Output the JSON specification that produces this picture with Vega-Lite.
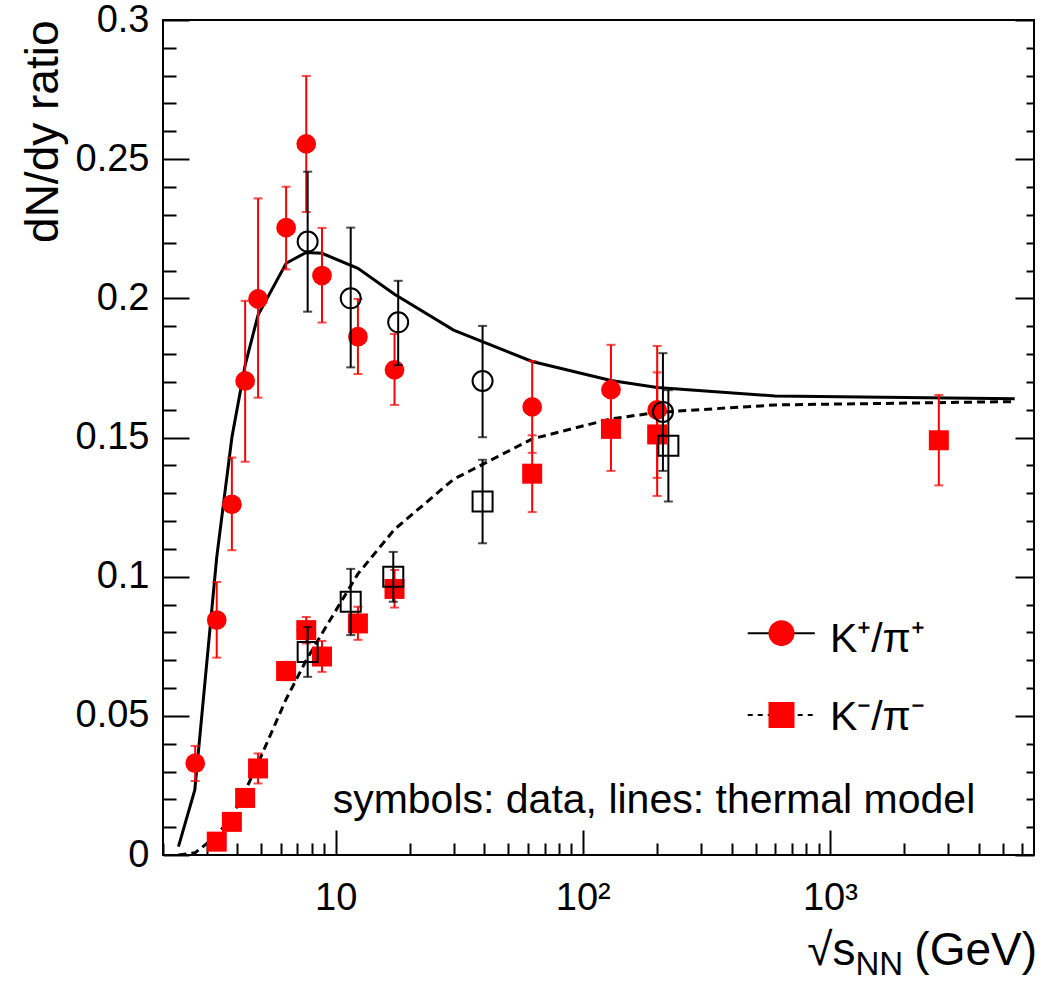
{
  "$schema": "https://vega.github.io/schema/vega-lite/v6.json",
  "width": 871,
  "height": 835,
  "autosize": "none",
  "padding": {"left": 163, "top": 20, "right": 25, "bottom": 126},
  "background": "white",
  "config": {
    "view": {"stroke": "black", "strokeWidth": 2},
    "font": "Liberation Sans",
    "axis": {"domain": false, "grid": false, "tickColor": "black", "tickWidth": 2, "labelColor": "black", "titleColor": "black", "labelFont": "Liberation Sans", "titleFont": "Liberation Sans", "labelOverlap": false, "labelFlush": false}
  },
  "datasets": {
    "model_kp": [
      {"energy": 2.31, "ratio": 0.003},
      {"energy": 2.69, "ratio": 0.0234},
      {"energy": 3.3, "ratio": 0.107},
      {"energy": 3.8, "ratio": 0.150},
      {"energy": 4.3, "ratio": 0.176},
      {"energy": 4.85, "ratio": 0.194},
      {"energy": 6.3, "ratio": 0.2126},
      {"energy": 7.6, "ratio": 0.2165},
      {"energy": 8.8, "ratio": 0.2162},
      {"energy": 12.3, "ratio": 0.2108},
      {"energy": 17.3, "ratio": 0.2015},
      {"energy": 30, "ratio": 0.1886},
      {"energy": 62.4, "ratio": 0.1773},
      {"energy": 130, "ratio": 0.1705},
      {"energy": 200, "ratio": 0.168},
      {"energy": 600, "ratio": 0.1649},
      {"energy": 5600, "ratio": 0.1639}
    ],
    "model_km": [
      {"energy": 2.31, "ratio": 0.0},
      {"energy": 2.7, "ratio": 0.0008},
      {"energy": 3.3, "ratio": 0.007},
      {"energy": 3.8, "ratio": 0.014},
      {"energy": 4.3, "ratio": 0.023},
      {"energy": 4.85, "ratio": 0.033},
      {"energy": 6.3, "ratio": 0.056},
      {"energy": 7.6, "ratio": 0.070},
      {"energy": 8.8, "ratio": 0.0796},
      {"energy": 12.3, "ratio": 0.101},
      {"energy": 17.3, "ratio": 0.117},
      {"energy": 30, "ratio": 0.135},
      {"energy": 62.4, "ratio": 0.1495},
      {"energy": 130, "ratio": 0.1567},
      {"energy": 200, "ratio": 0.159},
      {"energy": 600, "ratio": 0.1617},
      {"energy": 5600, "ratio": 0.1629}
    ],
    "red_kp": [
      {"energy": 2.7, "ratio": 0.0330, "lo": 0.0266, "hi": 0.0392},
      {"energy": 3.3, "ratio": 0.0844, "lo": 0.0709, "hi": 0.0981},
      {"energy": 3.8, "ratio": 0.1260, "lo": 0.1095, "hi": 0.1428},
      {"energy": 4.3, "ratio": 0.1703, "lo": 0.1413, "hi": 0.1991},
      {"energy": 4.85, "ratio": 0.1998, "lo": 0.1643, "hi": 0.2359},
      {"energy": 6.3, "ratio": 0.2254, "lo": 0.2104, "hi": 0.2401},
      {"energy": 7.6, "ratio": 0.2555, "lo": 0.2310, "hi": 0.2799},
      {"energy": 8.8, "ratio": 0.2082, "lo": 0.1913, "hi": 0.2253},
      {"energy": 12.3, "ratio": 0.1862, "lo": 0.1728, "hi": 0.1998},
      {"energy": 17.3, "ratio": 0.1743, "lo": 0.1617, "hi": 0.1872},
      {"energy": 62.4, "ratio": 0.1610, "lo": 0.1445, "hi": 0.1775},
      {"energy": 130, "ratio": 0.1672, "lo": 0.1512, "hi": 0.1833},
      {"energy": 200, "ratio": 0.1599, "lo": 0.1355, "hi": 0.1829}
    ],
    "red_km": [
      {"energy": 3.3, "ratio": 0.0048, "lo": 0.0038, "hi": 0.0058},
      {"energy": 3.8, "ratio": 0.0119, "lo": 0.0104, "hi": 0.0134},
      {"energy": 4.3, "ratio": 0.0205, "lo": 0.0185, "hi": 0.0225},
      {"energy": 4.85, "ratio": 0.0311, "lo": 0.0257, "hi": 0.0365},
      {"energy": 6.3, "ratio": 0.0661, "lo": 0.0628, "hi": 0.0694},
      {"energy": 7.6, "ratio": 0.0808, "lo": 0.0760, "hi": 0.0855},
      {"energy": 8.8, "ratio": 0.0713, "lo": 0.0658, "hi": 0.0769},
      {"energy": 12.3, "ratio": 0.0832, "lo": 0.0773, "hi": 0.0892},
      {"energy": 17.3, "ratio": 0.0956, "lo": 0.0889, "hi": 0.1024},
      {"energy": 62.4, "ratio": 0.1370, "lo": 0.1232, "hi": 0.1508},
      {"energy": 130, "ratio": 0.1531, "lo": 0.1380, "hi": 0.1680},
      {"energy": 200, "ratio": 0.1511, "lo": 0.1290, "hi": 0.1734},
      {"energy": 2760, "ratio": 0.1490, "lo": 0.1328, "hi": 0.1653}
    ],
    "blk_kp": [
      {"energy": 7.7, "ratio": 0.2204, "lo": 0.1952, "hi": 0.2455},
      {"energy": 11.5, "ratio": 0.2000, "lo": 0.1752, "hi": 0.2254},
      {"energy": 17.9, "ratio": 0.1914, "lo": 0.1760, "hi": 0.2063},
      {"energy": 39.3, "ratio": 0.1703, "lo": 0.1501, "hi": 0.1901},
      {"energy": 211, "ratio": 0.1592, "lo": 0.1380, "hi": 0.1803}
    ],
    "blk_km": [
      {"energy": 7.7, "ratio": 0.0729, "lo": 0.0640, "hi": 0.0819},
      {"energy": 11.5, "ratio": 0.0910, "lo": 0.0790, "hi": 0.1028},
      {"energy": 17.1, "ratio": 0.1000, "lo": 0.0910, "hi": 0.1089},
      {"energy": 39.3, "ratio": 0.1270, "lo": 0.1120, "hi": 0.1420},
      {"energy": 222, "ratio": 0.1470, "lo": 0.1270, "hi": 0.1670}
    ],
    "one": [{}]
  },
  "layer": [
    {
      "data": {"name": "model_kp"},
      "mark": {"type": "line", "color": "black", "strokeWidth": 3, "clip": true},
      "encoding": {
        "x": {"field": "energy", "type": "quantitative", "scale": {"type": "log", "domain": [2, 6700], "nice": false},
          "axis": {"orient": "bottom", "values": [10, 100, 1000], "labelExpr": "datum.value == 10 ? '10' : (datum.value == 100 ? '10²' : '10³')", "ticks": false, "tickSize": 0, "labelPadding": 24, "labelFontSize": 38, "title": null}},
        "y": {"field": "ratio", "type": "quantitative", "scale": {"domain": [0, 0.3], "nice": false, "zero": false},
          "axis": {"orient": "left", "values": [0, 0.05, 0.1, 0.15, 0.2, 0.25, 0.3], "format": "~g", "ticks": false, "tickSize": 0, "labelPadding": 14, "labelFontSize": 38, "title": "dN/dy ratio", "titleFontSize": 46, "titleFontWeight": "normal", "titleAnchor": "end", "titlePadding": 8}}
      }
    },
    {
      "data": {"name": "model_km"},
      "mark": {"type": "line", "color": "black", "strokeWidth": 3, "strokeDash": [8, 5], "clip": true},
      "encoding": {
        "x": {"field": "energy", "type": "quantitative", "scale": {"type": "log", "domain": [2, 6700], "nice": false},
          "axis": {"orient": "bottom", "values": [10, 100, 1000], "labels": false, "tickSize": 25, "offset": -25, "title": null}},
        "y": {"field": "ratio", "type": "quantitative", "scale": {"domain": [0, 0.3], "nice": false, "zero": false},
          "axis": {"orient": "left", "values": [0, 0.05, 0.1, 0.15, 0.2, 0.25, 0.3], "labels": false, "tickSize": 26, "offset": -26, "title": null}}
      }
    },
    {
      "data": {"name": "red_kp"},
      "mark": {"type": "errorbar", "ticks": true, "size": 9, "thickness": 2, "color": "#ff0000"},
      "encoding": {
        "x": {"field": "energy", "type": "quantitative", "scale": {"type": "log", "domain": [2, 6700], "nice": false}, "axis": null},
        "y": {"field": "lo", "type": "quantitative", "scale": {"domain": [0, 0.3], "nice": false, "zero": false}, "axis": null},
        "y2": {"field": "hi"}
      }
    },
    {
      "data": {"name": "red_km"},
      "mark": {"type": "errorbar", "ticks": true, "size": 9, "thickness": 2, "color": "#ff0000"},
      "encoding": {
        "x": {"field": "energy", "type": "quantitative", "scale": {"type": "log", "domain": [2, 6700], "nice": false}, "axis": null},
        "y": {"field": "lo", "type": "quantitative", "scale": {"domain": [0, 0.3], "nice": false, "zero": false}, "axis": null},
        "y2": {"field": "hi"}
      }
    },
    {
      "data": {"name": "red_kp"},
      "mark": {"type": "point", "shape": "circle", "filled": true, "color": "#ff0000", "size": 390, "opacity": 1},
      "encoding": {
        "x": {"field": "energy", "type": "quantitative", "scale": {"type": "log", "domain": [2, 6700], "nice": false},
          "axis": {"orient": "bottom", "values": [2, 3, 4, 5, 6, 7, 8, 9, 20, 30, 40, 50, 60, 70, 80, 90, 200, 300, 400, 500, 600, 700, 800, 900, 2000, 3000, 4000, 5000, 6000], "labels": false, "tickSize": 12, "offset": -12, "title": null}},
        "y": {"field": "ratio", "type": "quantitative", "scale": {"domain": [0, 0.3], "nice": false, "zero": false},
          "axis": {"orient": "left", "values": [0.01, 0.02, 0.03, 0.04, 0.06, 0.07, 0.08, 0.09, 0.11, 0.12, 0.13, 0.14, 0.16, 0.17, 0.18, 0.19, 0.21, 0.22, 0.23, 0.24, 0.26, 0.27, 0.28, 0.29], "labels": false, "tickSize": 13, "offset": -13, "title": null}}
      }
    },
    {
      "data": {"name": "red_km"},
      "mark": {"type": "point", "shape": "square", "filled": true, "color": "#ff0000", "size": 400, "opacity": 1},
      "encoding": {
        "x": {"field": "energy", "type": "quantitative", "scale": {"type": "log", "domain": [2, 6700], "nice": false}, "axis": null},
        "y": {"field": "ratio", "type": "quantitative", "scale": {"domain": [0, 0.3], "nice": false, "zero": false},
          "axis": {"orient": "right", "values": [0, 0.05, 0.1, 0.15, 0.2, 0.25, 0.3], "labels": false, "tickSize": 19, "offset": -19, "title": null}}
      }
    },
    {
      "data": {"name": "blk_kp"},
      "mark": {"type": "errorbar", "ticks": true, "size": 9, "thickness": 2, "color": "black"},
      "encoding": {
        "x": {"field": "energy", "type": "quantitative", "scale": {"type": "log", "domain": [2, 6700], "nice": false}, "axis": null},
        "y": {"field": "lo", "type": "quantitative", "scale": {"domain": [0, 0.3], "nice": false, "zero": false}, "axis": null},
        "y2": {"field": "hi"}
      }
    },
    {
      "data": {"name": "blk_km"},
      "mark": {"type": "errorbar", "ticks": true, "size": 9, "thickness": 2, "color": "black"},
      "encoding": {
        "x": {"field": "energy", "type": "quantitative", "scale": {"type": "log", "domain": [2, 6700], "nice": false}, "axis": null},
        "y": {"field": "lo", "type": "quantitative", "scale": {"domain": [0, 0.3], "nice": false, "zero": false}, "axis": null},
        "y2": {"field": "hi"}
      }
    },
    {
      "data": {"name": "blk_kp"},
      "mark": {"type": "point", "shape": "circle", "filled": false, "color": "black", "strokeWidth": 2, "size": 400, "opacity": 1},
      "encoding": {
        "x": {"field": "energy", "type": "quantitative", "scale": {"type": "log", "domain": [2, 6700], "nice": false}, "axis": null},
        "y": {"field": "ratio", "type": "quantitative", "scale": {"domain": [0, 0.3], "nice": false, "zero": false},
          "axis": {"orient": "right", "values": [0.01, 0.02, 0.03, 0.04, 0.06, 0.07, 0.08, 0.09, 0.11, 0.12, 0.13, 0.14, 0.16, 0.17, 0.18, 0.19, 0.21, 0.22, 0.23, 0.24, 0.26, 0.27, 0.28, 0.29], "labels": false, "tickSize": 8, "offset": -8, "title": null}}
      }
    },
    {
      "data": {"name": "blk_km"},
      "mark": {"type": "point", "shape": "square", "filled": false, "color": "black", "strokeWidth": 2, "size": 400, "opacity": 1},
      "encoding": {
        "x": {"field": "energy", "type": "quantitative", "scale": {"type": "log", "domain": [2, 6700], "nice": false}, "axis": null},
        "y": {"field": "ratio", "type": "quantitative", "scale": {"domain": [0, 0.3], "nice": false, "zero": false}, "axis": null}
      }
    },
    {
      "data": {"name": "one"},
      "mark": {"type": "rule", "color": "black", "strokeWidth": 2},
      "encoding": {
        "x": {"datum": 465, "type": "quantitative", "scale": {"type": "log", "domain": [2, 6700], "nice": false}, "axis": null},
        "x2": {"datum": 869},
        "y": {"datum": 0.0797, "type": "quantitative", "scale": {"domain": [0, 0.3], "nice": false, "zero": false}, "axis": null}
      }
    },
    {
      "data": {"name": "one"},
      "mark": {"type": "rule", "color": "black", "strokeWidth": 2, "strokeDash": [5, 5]},
      "encoding": {
        "x": {"datum": 465, "type": "quantitative", "scale": {"type": "log", "domain": [2, 6700], "nice": false}, "axis": null},
        "x2": {"datum": 869},
        "y": {"datum": 0.0503, "type": "quantitative", "scale": {"domain": [0, 0.3], "nice": false, "zero": false}, "axis": null}
      }
    },
    {
      "data": {"name": "one"},
      "mark": {"type": "point", "shape": "circle", "filled": true, "color": "#ff0000", "size": 676, "opacity": 1},
      "encoding": {
        "x": {"datum": 637, "type": "quantitative", "scale": {"type": "log", "domain": [2, 6700], "nice": false}, "axis": null},
        "y": {"datum": 0.0797, "type": "quantitative", "scale": {"domain": [0, 0.3], "nice": false, "zero": false}, "axis": null}
      }
    },
    {
      "data": {"name": "one"},
      "mark": {"type": "point", "shape": "square", "filled": true, "color": "#ff0000", "size": 676, "opacity": 1},
      "encoding": {
        "x": {"datum": 637, "type": "quantitative", "scale": {"type": "log", "domain": [2, 6700], "nice": false}, "axis": null},
        "y": {"datum": 0.0503, "type": "quantitative", "scale": {"domain": [0, 0.3], "nice": false, "zero": false}, "axis": null}
      }
    },
    {
      "data": {"name": "one"},
      "mark": {"type": "text", "align": "left", "baseline": "alphabetic", "fontSize": 41, "font": "Liberation Sans", "color": "black"},
      "encoding": {
        "x": {"datum": 1000, "type": "quantitative", "scale": {"type": "log", "domain": [2, 6700], "nice": false}, "axis": null},
        "y": {"datum": 0.073, "type": "quantitative", "scale": {"domain": [0, 0.3], "nice": false, "zero": false}, "axis": null},
        "text": {"value": "K⁺/π⁺"}
      }
    },
    {
      "data": {"name": "one"},
      "mark": {"type": "text", "align": "left", "baseline": "alphabetic", "fontSize": 41, "font": "Liberation Sans", "color": "black"},
      "encoding": {
        "x": {"datum": 1000, "type": "quantitative", "scale": {"type": "log", "domain": [2, 6700], "nice": false}, "axis": null},
        "y": {"datum": 0.0449, "type": "quantitative", "scale": {"domain": [0, 0.3], "nice": false, "zero": false}, "axis": null},
        "text": {"value": "K⁻/π⁻"}
      }
    },
    {
      "data": {"name": "one"},
      "mark": {"type": "text", "align": "left", "baseline": "alphabetic", "fontSize": 41, "font": "Liberation Sans", "color": "black"},
      "encoding": {
        "x": {"datum": 9.72, "type": "quantitative", "scale": {"type": "log", "domain": [2, 6700], "nice": false}, "axis": null},
        "y": {"datum": 0.0151, "type": "quantitative", "scale": {"domain": [0, 0.3], "nice": false, "zero": false}, "axis": null},
        "text": {"value": "symbols: data, lines: thermal model"}
      }
    },
    {
      "data": {"name": "one"},
      "mark": {"type": "text", "align": "right", "baseline": "alphabetic", "fontSize": 46, "font": "Liberation Sans", "color": "black", "dy": 110},
      "encoding": {
        "x": {"datum": 1270, "type": "quantitative", "scale": {"type": "log", "domain": [2, 6700], "nice": false}, "axis": null},
        "y": {"datum": 0, "type": "quantitative", "scale": {"domain": [0, 0.3], "nice": false, "zero": false}, "axis": null},
        "text": {"value": "√s"}
      }
    },
    {
      "data": {"name": "one"},
      "mark": {"type": "text", "align": "left", "baseline": "alphabetic", "fontSize": 33, "font": "Liberation Sans", "color": "black", "dy": 120},
      "encoding": {
        "x": {"datum": 1270, "type": "quantitative", "scale": {"type": "log", "domain": [2, 6700], "nice": false}, "axis": null},
        "y": {"datum": 0, "type": "quantitative", "scale": {"domain": [0, 0.3], "nice": false, "zero": false}, "axis": null},
        "text": {"value": "NN"}
      }
    },
    {
      "data": {"name": "one"},
      "mark": {"type": "text", "align": "right", "baseline": "alphabetic", "fontSize": 46, "font": "Liberation Sans", "color": "black", "dy": 110, "dx": 3},
      "encoding": {
        "x": {"datum": 6700, "type": "quantitative", "scale": {"type": "log", "domain": [2, 6700], "nice": false}, "axis": null},
        "y": {"datum": 0, "type": "quantitative", "scale": {"domain": [0, 0.3], "nice": false, "zero": false}, "axis": null},
        "text": {"value": "(GeV)"}
      }
    }
  ],
  "resolve": {"axis": {"x": "independent", "y": "independent"}}
}
